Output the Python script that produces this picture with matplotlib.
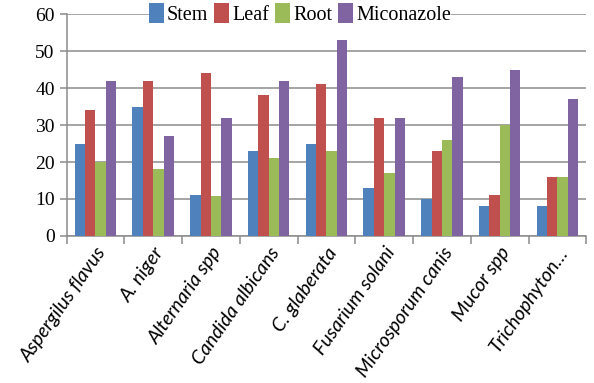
import numpy as np
import matplotlib.pyplot as plt

species = ['Aspergilus flavus', 'A. niger', 'Alternaria spp', 'Candida albicans',
           'C. glaberata', 'Fusarium solani', 'Microsporum canis', 'Mucor spp',
           'Trichophyton…']
stem = [25, 35, 11, 23, 25, 13, 10, 8, 8]
leaf = [34, 42, 44, 38, 41, 32, 23, 11, 16]
root = [20, 18, 10.7, 21, 23, 17, 26, 30, 16]
miconazole = [42, 27, 32, 42, 53, 32, 43, 45, 37]

series = [('Stem', stem, '#4F81BD'), ('Leaf', leaf, '#C0504D'),
          ('Root', root, '#9BBB59'), ('Miconazole', miconazole, '#8064A2')]

plt.rcParams['font.family'] = ['Liberation Serif', 'DejaVu Serif']

fig = plt.figure(figsize=(5.94, 3.83), dpi=100)
ax = fig.add_axes([0.112, 0.384, 0.875, 0.579])

x = np.arange(len(species))
w = 0.18
for i, (name, vals, col) in enumerate(series):
    ax.bar(x + (i - 1.5) * w, vals, w, color=col, label=name, zorder=3)

ax.set_xlim(-0.5, len(species) - 0.5)
ax.set_ylim(0, 60)
ax.set_yticks(range(0, 61, 10))
ax.yaxis.grid(True, color='#8c8c8c', linewidth=1.1, zorder=0)
ax.set_axisbelow(True)

for s in ['top', 'right']:
    ax.spines[s].set_visible(False)
for s in ['left', 'bottom']:
    ax.spines[s].set_color('#8c8c8c')
    ax.spines[s].set_linewidth(1.1)

ax.tick_params(axis='y', colors='#8c8c8c', length=5, width=1.1, labelcolor='black',
               labelsize=14)

# ticks sit between the category groups, labels at the group centres
ax.set_xticks(np.arange(-0.5, len(species)), minor=False)
ax.set_xticklabels([])
ax.set_xticks(x, minor=True)
ax.set_xticklabels(species, minor=True, rotation=55, ha='right', va='top',
                   rotation_mode='anchor', fontsize=14, family='Lato', style='italic')
ax.tick_params(axis='x', which='major', colors='#8c8c8c', length=6, width=1.1)
ax.tick_params(axis='x', which='minor', length=0, pad=6)

leg = ax.legend(loc='center', bbox_to_anchor=(0.505, 0.963), bbox_transform=fig.transFigure,
                ncol=4, frameon=True, fancybox=False, edgecolor='none', framealpha=1,
                handlelength=0.75, handleheight=1.1, handletextpad=0.15, columnspacing=0.3,
                borderpad=0.0, prop={'family': 'Liberation Serif', 'size': 14.5})

fig.savefig('out.png', dpi=100)
